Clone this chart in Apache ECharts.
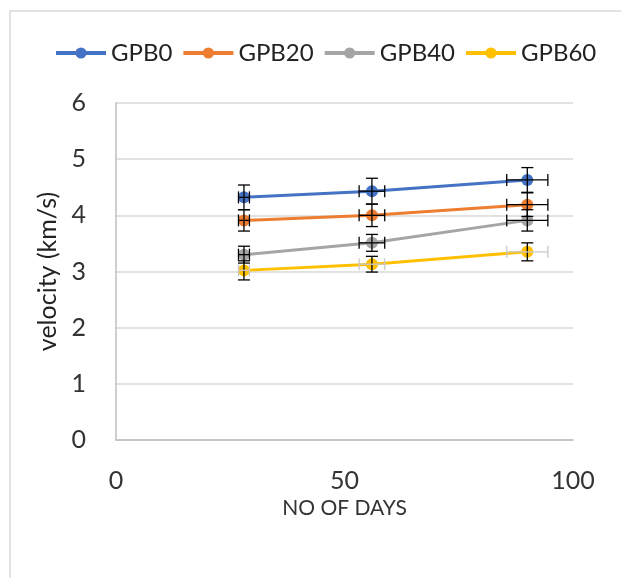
<!DOCTYPE html>
<html>
<head>
<meta charset="utf-8">
<script src="https://cdn.jsdelivr.net/npm/echarts@6/dist/echarts.min.js"></script>
<style>
  html, body { margin: 0; padding: 0; background: #fff; }
  #chart { width: 621px; height: 578px; }
</style>
</head>
<body>
<div id="chart"></div>
<script>
var days = [28, 56, 90];
var dayErr = [1.2, 2.8, 4.5];

var gpb0 = [4.32, 4.43, 4.63];
var gpb20 = [3.91, 4.00, 4.19];
var gpb40 = [3.30, 3.51, 3.91];
var gpb60 = [3.02, 3.13, 3.35];

var gpb0Err = [0.22, 0.23, 0.22];
var gpb20Err = [0.19, 0.20, 0.21];
var gpb40Err = [0.15, 0.15, 0.19];
var gpb60Err = [0.17, 0.14, 0.16];

var names = ['GPB0', 'GPB20', 'GPB40', 'GPB60'];
var colors = ['#4472C4', '#ED7D31', '#A5A5A5', '#FFC000'];
var values = [gpb0, gpb20, gpb40, gpb60];
var errs = [gpb0Err, gpb20Err, gpb40Err, gpb60Err];
var hColors = ['#000', '#000', '#000', '#c9c9c9'];

var font = 'Lato, "Open Sans", sans-serif';

function pairs(ys) {
	return days.map(function (d, i) { return [d, ys[i]]; });
}

function errData(ys, es) {
	return days.map(function (d, i) { return [d, ys[i], dayErr[i], es[i]]; });
}

function errRenderer(hColor) {
	return function (params, api) {
		var x = api.value(0), y = api.value(1), ex = api.value(2), ey = api.value(3);
		var top = api.coord([x, y + ey]);
		var bot = api.coord([x, y - ey]);
		var lft = api.coord([x - ex, y]);
		var rgt = api.coord([x + ex, y]);
		var c = 6;
		var vs = { stroke: '#000', lineWidth: 1.3 };
		var hs = { stroke: hColor, lineWidth: 1.3 };
		return {
			type: 'group',
			children: [
				{ type: 'line', shape: { x1: top[0], y1: top[1], x2: bot[0], y2: bot[1] }, style: vs },
				{ type: 'line', shape: { x1: top[0] - c, y1: top[1], x2: top[0] + c, y2: top[1] }, style: vs },
				{ type: 'line', shape: { x1: bot[0] - c, y1: bot[1], x2: bot[0] + c, y2: bot[1] }, style: vs },
				{ type: 'line', shape: { x1: lft[0], y1: lft[1], x2: rgt[0], y2: rgt[1] }, style: hs },
				{ type: 'line', shape: { x1: lft[0], y1: lft[1] - c, x2: lft[0], y2: lft[1] + c }, style: hs },
				{ type: 'line', shape: { x1: rgt[0], y1: rgt[1] - c, x2: rgt[0], y2: rgt[1] + c }, style: hs }
			]
		};
	};
}

var series = [];
names.forEach(function (n, k) {
	series.push({
		name: n,
		type: 'line',
		data: pairs(values[k]),
		symbol: 'circle',
		symbolSize: 12,
		lineStyle: { width: 3, color: colors[k] },
		itemStyle: { color: colors[k] },
		z: 2
	});
});
names.forEach(function (n, k) {
	series.push({
		type: 'custom',
		renderItem: errRenderer(hColors[k]),
		data: errData(values[k], errs[k]),
		encode: { x: 0, y: 1 },
		silent: true,
		z: 3
	});
});

var myChart = echarts.init(document.getElementById('chart'));
option = {
	animation: false,
	color: colors,
	textStyle: { fontFamily: font },
	graphic: [{
		type: 'rect',
		shape: { x: 10, y: 11, width: 700, height: 700 },
		style: { fill: 'none', stroke: '#d9d9d9', lineWidth: 1.5 },
		silent: true
	}],
	legend: {
		data: names,
		left: 49,
		top: 36,
		itemWidth: 50,
		itemHeight: 14,
		itemGap: 9,
		lineStyle: { width: 4 },
		textStyle: { fontSize: 24, color: '#222', fontFamily: font }
	},
	grid: { left: 116, right: 48, top: 103, bottom: 138 },
	xAxis: {
		type: 'value',
		min: 0,
		max: 100,
		interval: 50,
		name: 'NO OF DAYS',
		nameLocation: 'middle',
		nameGap: 58,
		nameTextStyle: { fontSize: 21, color: '#333', fontFamily: font },
		axisLine: { show: true, lineStyle: { color: '#bfbfbf', width: 1.5 } },
		axisTick: { show: false },
		splitLine: { show: false },
		axisLabel: { fontSize: 25, color: '#333', margin: 28, fontFamily: font }
	},
	yAxis: {
		type: 'value',
		min: 0,
		max: 6,
		interval: 1,
		name: 'velocity (km/s)',
		nameLocation: 'middle',
		nameRotate: 90,
		nameGap: 55,
		nameTextStyle: { fontSize: 25, color: '#222', fontFamily: font },
		axisLine: { show: true, lineStyle: { color: '#bfbfbf', width: 1.5 } },
		axisTick: { show: false },
		splitLine: { lineStyle: { color: '#d9d9d9', width: 1.5 } },
		axisLabel: { fontSize: 25, color: '#333', margin: 30, fontFamily: font }
	},
	series: series
};
myChart.setOption(option);
</script>
</body>
</html>
